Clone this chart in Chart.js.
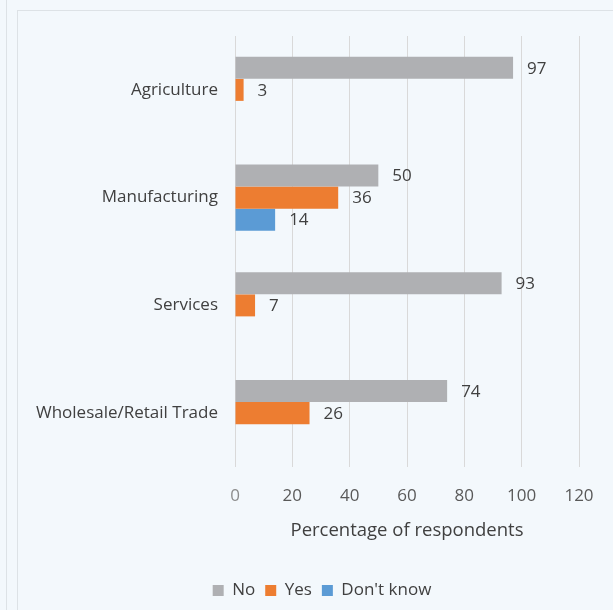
<!DOCTYPE html>
<html>
<head>
<meta charset="utf-8">
<script src="https://cdn.jsdelivr.net/npm/chart.js@4"></script>
<style>
  html, body { margin: 0; padding: 0; background: #f3f8fc; width: 613px; height: 610px; overflow: hidden; }
  #leftline { position: absolute; left: 6px; top: 0; width: 1px; height: 610px; background: #dde2e6; }
  #box { position: absolute; left: 17px; top: 10px; width: 608px; height: 600px; border: 1px solid #dde2e6; background: #f3f8fc; }
  canvas { display: block; }
</style>
</head>
<body>
<div id="leftline"></div>
<div id="box"><canvas id="c" width="608" height="600"></canvas></div>
<script>
const categories = ["Agriculture", "Manufacturing", "Services", "Wholesale/Retail Trade"];
const seriesNames = ["No", "Yes", "Don't know"];
const noValues = [97, 50, 93, 74];
const yesValues = [3, 36, 7, 26];
const dontKnowValues = [null, 14, null, null];
const xTicks = [0, 20, 40, 60, 80, 100, 120];
const colors = ["#afb0b3", "#ed7d31", "#5b9bd5"];

const FONT = "'Open Sans', sans-serif";

const valueLabels = {
  id: 'valueLabels',
  afterLayout(chart) {
    chart.legend.left = 0;
    chart.legend.right = chart.width;
  },
  afterDatasetsDraw(chart) {
    const ctx = chart.ctx;
    ctx.save();
    ctx.font = "17px " + FONT;
    ctx.fillStyle = "#404040";
    ctx.textBaseline = "middle";
    ctx.textAlign = "left";
    chart.data.datasets.forEach((ds, di) => {
      const meta = chart.getDatasetMeta(di);
      meta.data.forEach((bar, i) => {
        const v = ds.data[i];
        if (v === null || v === undefined) return;
        ctx.fillText(String(v), bar.x + 14, bar.y + 1);
      });
    });
    ctx.restore();
  }
};

new Chart(document.getElementById('c'), {
  type: 'bar',
  data: {
    labels: categories,
    datasets: [
      { label: seriesNames[0], data: noValues, backgroundColor: colors[0] },
      { label: seriesNames[1], data: yesValues, backgroundColor: colors[1] },
      { label: seriesNames[2], data: dontKnowValues, backgroundColor: colors[2] }
    ]
  },
  options: {
    indexAxis: 'y',
    responsive: false,
    animation: false,
    devicePixelRatio: 1,
    categoryPercentage: 0.613,
    barPercentage: 1.0,
    layout: { padding: { top: 25, right: 47, bottom: 2, left: 0 } },
    scales: {
      x: {
        min: 0, max: 120,
        afterBuildTicks(scale) { scale.ticks = xTicks.map(v => ({ value: v })); },
        afterFit(scale) { scale.height = 105; scale.paddingTop = 0; scale.paddingBottom = 0; },
        grid: { color: "#d9d9d9", lineWidth: 1, drawTicks: false },
        border: { display: false },
        ticks: { padding: 19, color: (c) => c.index === 0 ? "#8c8c8c" : "#595959", font: { family: FONT, size: 17 } },
        title: { display: true, text: "Percentage of respondents", color: "#404040",
                 font: { family: FONT, size: 18.5 }, padding: { top: 0, bottom: 30 } }
      },
      y: {
        afterFit(scale) { scale.width = 217; scale.paddingTop = 0; scale.paddingBottom = 0; },
        grid: { display: false, drawTicks: false },
        border: { display: false },
        ticks: { padding: 17, color: "#404040", font: { family: FONT, size: 17 } }
      }
    },
    plugins: {
      legend: {
        position: 'bottom',
        labels: { boxWidth: 11, boxHeight: 11, padding: 10, color: "#404040",
                  font: { family: FONT, size: 17 } }
      },
      tooltip: { enabled: false }
    }
  },
  plugins: [valueLabels]
});
</script>
</body>
</html>
